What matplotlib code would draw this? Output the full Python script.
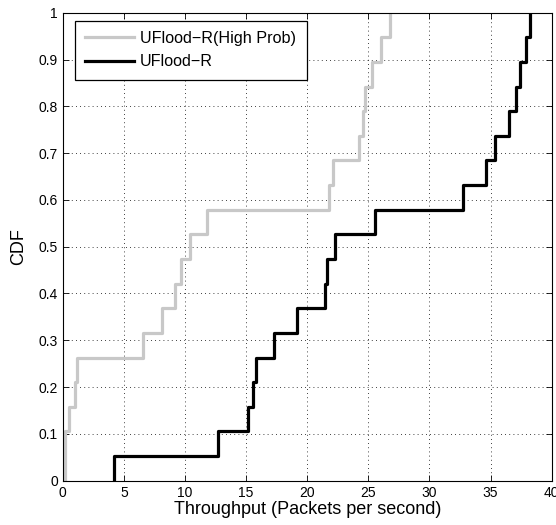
import numpy as np
import matplotlib
matplotlib.use('Agg')
import matplotlib.pyplot as plt

plt.rcParams['font.family'] = ['Liberation Sans', 'DejaVu Sans']

# throughput samples (packets per second)
high_prob = [0.15, 0.2, 0.52, 1.0, 1.2, 6.6, 8.15, 9.19, 9.68, 10.41, 11.78,
             21.81, 22.08, 24.26, 24.59, 24.7, 25.33, 26.01, 26.77]
uflood_r = [4.2, 12.73, 15.13, 15.6, 15.81, 17.28, 19.14, 21.48, 21.59, 22.27,
            25.55, 32.77, 34.6, 35.36, 36.5, 37.05, 37.41, 37.87, 38.22]

labels = ['UFlood\u2212R(High Prob)', 'UFlood\u2212R']
colors = ['#c8c8c8', 'black']


def ecdf(vals):
    v = np.sort(np.array(vals))
    n = len(v)
    x = np.concatenate([[v[0]], v])
    y = np.arange(0, n + 1) / n
    return x, y


fig = plt.figure(figsize=(5.56, 5.25), dpi=100)
ax = fig.add_axes([0.1128, 0.0844, 0.8795, 0.8914])

for vals, lab, c in zip([high_prob, uflood_r], labels, colors):
    x, y = ecdf(vals)
    ax.step(x, y, where='post', color=c, lw=2.3, label=lab)

ax.set_xlim(0, 40)
ax.set_ylim(0, 1)
ax.set_xticks(np.arange(0, 41, 5))
ax.set_yticks(np.arange(0, 1.01, 0.1))
ax.set_yticklabels(['0', '0.1', '0.2', '0.3', '0.4', '0.5', '0.6', '0.7', '0.8', '0.9', '1'])
ax.tick_params(direction='in', top=True, right=True, labelsize=10, length=4, width=0.6)
ax.grid(True, linestyle=(0, (1, 4)), color='black', linewidth=0.6)
for s in ax.spines.values():
    s.set_linewidth(0.8)

ax.set_xlabel('Throughput (Packets per second)', fontsize=13, labelpad=1)
ax.set_ylabel('CDF', fontsize=13, labelpad=8)

leg = ax.legend(loc='upper left', bbox_to_anchor=(0.025, 0.983), borderaxespad=0,
                fontsize=11.6, fancybox=False, edgecolor='black', framealpha=1,
                handlelength=3.0, handletextpad=0.4, borderpad=0.65, labelspacing=0.5)
leg.get_frame().set_linewidth(0.9)

fig.savefig('out.png', dpi=100)
